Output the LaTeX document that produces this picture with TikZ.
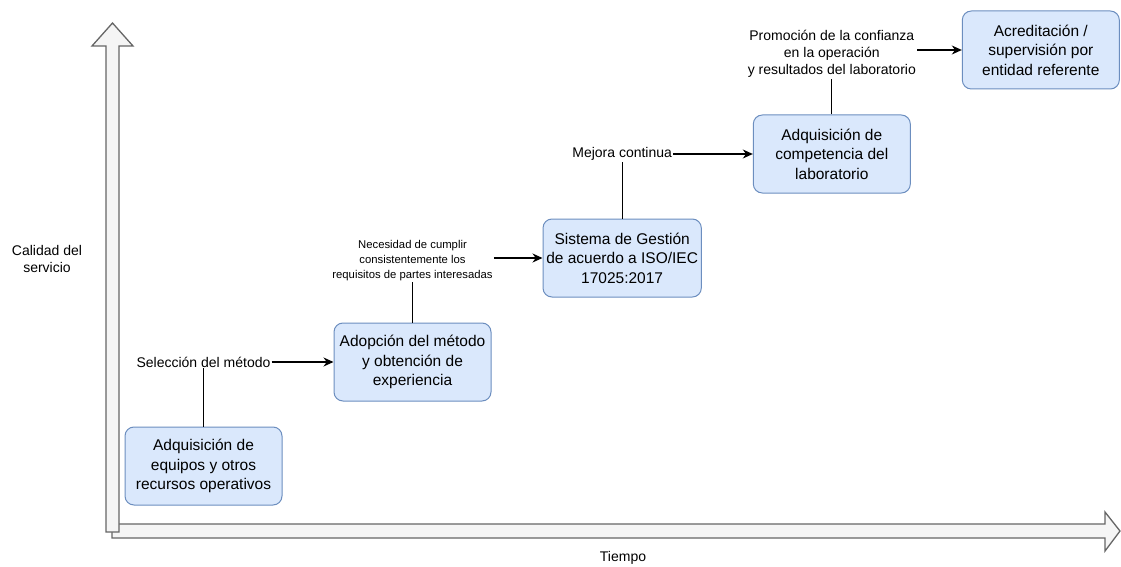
\documentclass[tikz,border=0pt]{standalone}
\usepackage{fontspec}
\setmainfont{Liberation Sans}
\usetikzlibrary{arrows.meta,positioning}
\definecolor{boxfill}{HTML}{DAE8FC}
\definecolor{boxline}{HTML}{6C8EBF}
\definecolor{axisfill}{HTML}{F5F5F5}
\definecolor{axisline}{HTML}{666666}

\begin{document}
\begin{tikzpicture}[
  x=1pt, y=-1pt,
  >={Stealth[length=10pt,width=9pt]},
  node distance=25pt and 51pt,
  every node/.style={font=\fontsize{14}{17}\selectfont},
  etapa/.style={draw=boxline, fill=boxfill, line width=1pt, rounded corners=9pt, align=center, minimum width=157pt, minimum height=78pt, font=\fontsize{15.5}{19.5}\selectfont},
  nota/.style={align=center, inner sep=1pt},
  notachica/.style={nota, font=\fontsize{11.3}{15}\selectfont},
  eje/.style={draw=axisline, fill=axisfill, line width=1.3pt, line join=miter}
]
\useasboundingbox (0,0) rectangle (1121,567);

\draw[eje] (112,524) -- (1105,524) -- (1105,512) -- (1120,531) -- (1105,551) -- (1105,538) -- (112,538) -- cycle;
\draw[eje] (106,532) -- (106,46) -- (92,46) -- (112.5,23) -- (133,46) -- (119,46) -- (119,532) -- cycle;

\node[etapa] (B1) at (203.5,466) {Adquisición de\\equipos y otros\\recursos operativos};
\node[etapa, above right=of B1] (B2) {Adopción del método\\y obtención de\\experiencia};
\node[etapa, above right=of B2] (B3) {Sistema de Gestión\\de acuerdo a ISO/IEC\\17025:2017};
\node[etapa, above right=of B3] (B4) {Adquisición de\\competencia del\\laboratorio};
\node[etapa, above right=of B4] (B5) {Acreditación /\\supervisión por\\entidad referente};

\node[nota] (L1) at (B1 |- B2) {Selección del método};
\node[notachica] (L2) at ([yshift=-3pt]B2 |- B3) {Necesidad de cumplir\\consistentemente los\\requisitos de partes interesadas};
\node[nota] (L3) at (B3 |- B4) {Mejora continua};
\node[nota] (L4) at ([yshift=-4pt]B4 |- B5) {Promoción de la confianza\\en la operación\\y resultados del laboratorio};

\draw[line width=1.2pt] (B1) -- (L1);
\draw[line width=1.2pt] (B2) -- (L2);
\draw[line width=1.2pt] (B3) -- (L3);
\draw[line width=1.2pt] (B4) -- (L4);
\draw[->, line width=1.2pt] (L1) -- (B2);
\draw[->, line width=1.2pt] (L2.east |- B3) -- (B3);
\draw[->, line width=1.2pt] (L3) -- (B4);
\draw[->, line width=1.2pt] (L4.east |- B5) -- (B5);

\node[nota] (ejeY) at (47,259) {Calidad del\\servicio};
\node[nota] (ejeX) at (623,558) {Tiempo};
\end{tikzpicture}
\end{document}
